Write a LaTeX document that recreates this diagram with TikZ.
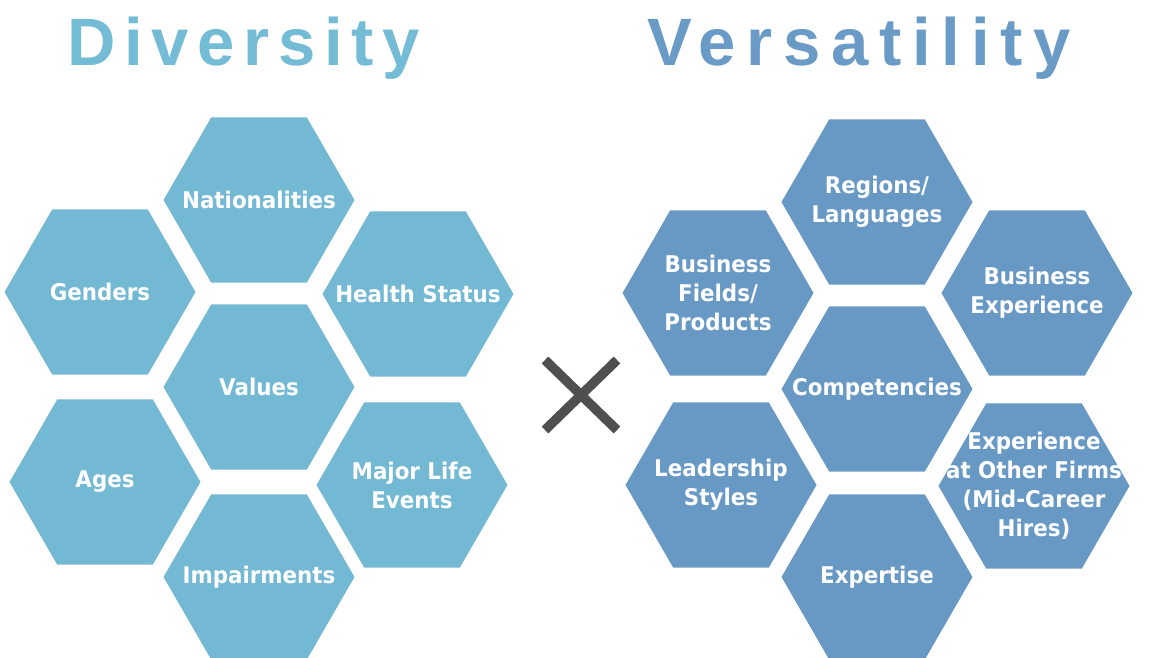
\documentclass[tikz,border=0pt]{standalone}
\usepackage{fontspec}
\usetikzlibrary{shapes.geometric}
\newfontfamily\hexfont{DejaVu Sans}[FakeStretch=0.93]
\newfontfamily\titlefontA{Liberation Sans}[LetterSpace=13]
\newfontfamily\titlefontB{Liberation Sans}[LetterSpace=16]
\definecolor{divblue}{HTML}{74B9D4}
\definecolor{verblue}{HTML}{6899C4}
\definecolor{divtitle}{HTML}{74BBD6}
\definecolor{vertitle}{HTML}{6A9BC7}
\definecolor{xgray}{HTML}{4F4F4F}
\begin{document}
\begin{tikzpicture}[x=1pt,y=-1pt,
  hexa/.style={regular polygon, regular polygon sides=6, minimum size=191pt,
    inner sep=0pt, outer sep=0pt, draw=none},
  dhex/.style={hexa, fill=divblue},
  vhex/.style={hexa, fill=verblue},
  lbl/.style={text=white, font=\hexfont\bfseries\fontsize{23}{29}\selectfont,
    align=center, inner sep=0pt},
  ttl/.style={anchor=base west, inner sep=0pt},
  xstroke/.style={draw=xgray, line width=9.5pt}]
\useasboundingbox (0,0) rectangle (1152,657);
% titles
\node[ttl, text=divtitle, font=\titlefontA\bfseries\fontsize{67}{80}\selectfont] (tdiv) at (67,65) {Diversity};
\node[ttl, text=vertitle, font=\titlefontB\bfseries\fontsize{67}{80}\selectfont] (tver) at (647,65) {Versatility};
% Diversity hexagons
\node[dhex, label={[lbl]center:Nationalities}] (nat) at (259,200) {};
\node[dhex, label={[lbl]center:Genders}] (gen) at (100,292) {};
\node[dhex, label={[lbl]center:Health Status}] (hea) at (418,294) {};
\node[dhex, label={[lbl]center:Values}] (val) at (259,387) {};
\node[dhex, label={[lbl]center:Ages}] (age) at (105,482) {};
\node[dhex, label={[lbl]center:{Major Life\\Events}}] (maj) at (412,485) {};
\node[dhex, label={[lbl]center:Impairments}] (imp) at (259,577) {};
% Versatility hexagons
\node[vhex, label={[lbl]center:{Regions/\\Languages}}] (reg) at (877,202) {};
\node[vhex, label={[lbl]center:{Business\\Fields/\\Products}}] (bfp) at (718,293) {};
\node[vhex, label={[lbl]center:{Business\\Experience}}] (bex) at (1037,293) {};
\node[vhex, label={[lbl]center:Competencies}] (com) at (877,389) {};
\node[vhex, label={[lbl]center:{Leadership\\Styles}}] (lea) at (721,485) {};
\node[vhex, label={[lbl]center:{Experience\\at Other Firms\\(Mid-Career\\Hires)}}] (exo) at (1034,486) {};
\node[vhex, label={[lbl]center:Expertise}] (ept) at (877,577) {};
% multiplication sign
\coordinate (xc) at (581,395);
\draw[xstroke] (xc) ++(-36,-35) -- ++(72,70);
\draw[xstroke] (xc) ++(36,-35) -- ++(-72,70);
\end{tikzpicture}
\end{document}
